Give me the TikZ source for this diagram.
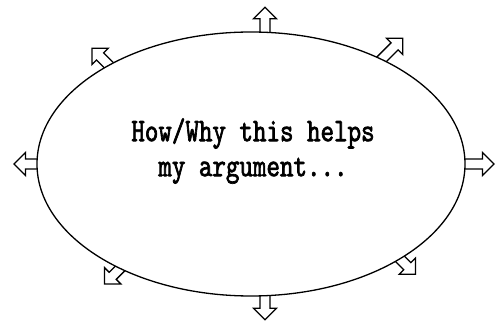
\documentclass[tikz,border=0pt]{standalone}
\usepackage{fontspec}
\usepackage{tikz}
\usetikzlibrary{shapes.geometric}
\usetikzlibrary{calc}
\newfontfamily\typewr[FakeStretch=0.78,FakeBold=2]{lmmono10-regular.otf}

\begin{document}
\begin{tikzpicture}[x=1pt,y=1pt,line width=1.3pt,
  blockarr/.style={draw=black, fill=white, line join=miter}]

\useasboundingbox (0,0) rectangle (501,324);

\coordinate (c) at (251,160);

 \foreach \t/\d/\l in {180/180/23, 0/0/29, 86.25/90/25, 273.75/270/24,
 131.6/135/24, 52.4/45/30, 232.3/225/22, 314.1/315/22}
 \draw[blockarr, shift={($(c)+(\t:214 and 132)$)}, rotate=\d]
   (-4,-5) -- (\l-11.5,-5) -- (\l-11.5,-11.5) -- (\l,0)
   -- (\l-11.5,11.5) -- (\l-11.5,5) -- (-4,5);

\node[draw, ellipse, fill=white, minimum width=428pt, minimum height=264pt, inner sep=0pt] (idea) at (c) {};

\node[font=\typewr\fontsize{33}{35}\selectfont, align=center, inner sep=0pt] (txt) at (253,173) {How/Why this helps\\my argument...};

  \end{tikzpicture}
\end{document}
